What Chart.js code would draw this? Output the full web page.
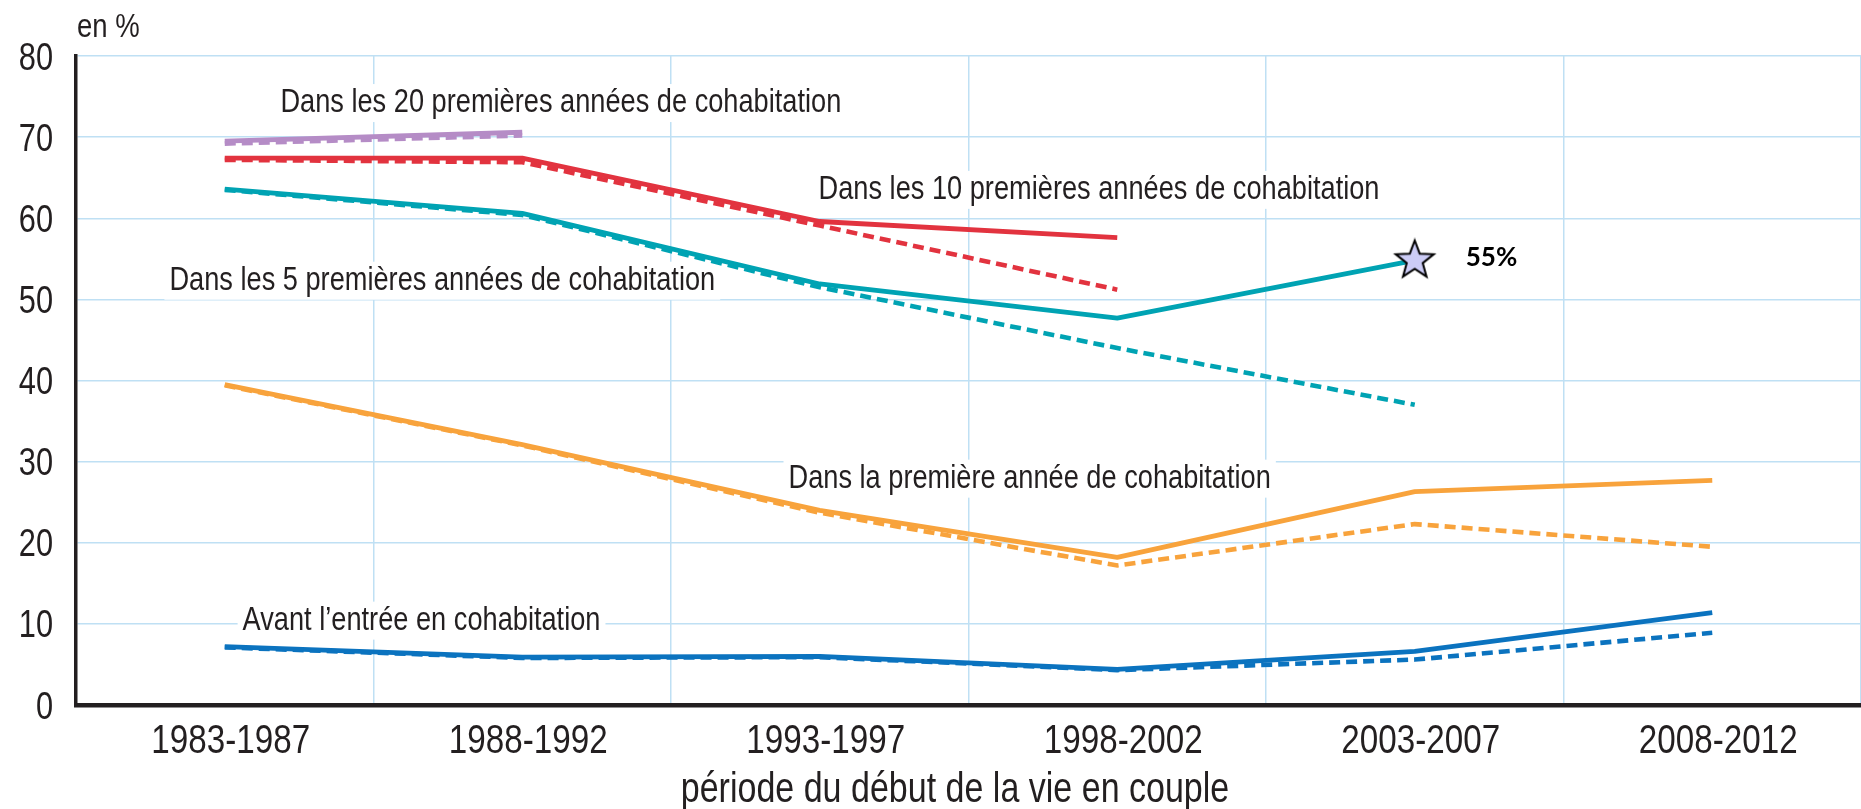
<!DOCTYPE html>
<html lang="fr">
<head>
<meta charset="utf-8">
<title>Début de la vie en couple</title>
<script src="https://cdn.jsdelivr.net/npm/chart.js@4.4.1/dist/chart.umd.min.js"></script>
<style>
  html, body { margin: 0; padding: 0; background: #fff; }
  #wrap { position: relative; width: 1861px; height: 809px; }
</style>
</head>
<body>
<div id="wrap"><canvas id="chart"></canvas></div>
<script>
// === DONNÉES ===
const periods = ["1983-1987", "1988-1992", "1993-1997", "1998-2002", "2003-2007", "2008-2012"];
const yTicks = [0, 10, 20, 30, 40, 50, 60, 70, 80];

const first20Solid  = [69.5, 70.6, null, null, null, null];
const first20Dashed = [69.2, 70.2, null, null, null, null];
const first10Solid  = [67.4, 67.4, 59.6, 57.6, null, null];
const first10Dashed = [67.2, 66.9, 59.1, 51.2, null, null];
const first5Solid   = [63.6, 60.6, 51.9, 47.7, 54.8, null];
const first5Dashed  = [63.5, 60.4, 51.5, 44.0, 37.0, null];
const firstYrSolid  = [39.5, 32.1, 24.0, 18.2, 26.3, 27.7];
const firstYrDashed = [39.4, 32.0, 23.7, 17.2, 22.3, 19.5];
const beforeSolid   = [7.2, 5.9, 6.0, 4.4, 6.6, 11.4];
const beforeDashed  = [7.1, 5.8, 5.9, 4.3, 5.6, 8.9];

const curveLabels = [
  "Dans les 20 premières années de cohabitation",
  "Dans les 10 premières années de cohabitation",
  "Dans les 5 premières années de cohabitation",
  "Dans la première année de cohabitation",
  "Avant l’entrée en cohabitation"
];
const starLabel = "55%";
const yUnit = "en %";
const xTitle = "période du début de la vie en couple";

// === STYLES ===
const FONT = '"Liberation Sans", Arial, sans-serif';
const NARROW = 0.81; // le texte d'origine est en Helvetica condensé
const INK = "#231f20";
const GRID = "#bfe0f4";
const PURPLE = "#b58cc6";
const RED = "#e2333f";
const TEAL = "#00a3b3";
const ORANGE = "#f8a33c";
const BLUE = "#0b73bf";

// position des libellés : [fraction d'index de catégorie, valeur]
const labelAnchors = [
  [0.187, 74.2],
  [1.996, 63.5],
  [-0.186, 52.3],
  [1.895, 27.9],
  [0.06, 10.4]
];

function makeStar(r) {
  const c = document.createElement("canvas");
  const size = Math.ceil(r * 2 + 6);
  c.width = c.height = size;
  const g = c.getContext("2d");
  g.beginPath();
  for (let k = 0; k < 10; k++) {
    const rad = k % 2 ? r * 0.42 : r;
    const a = -Math.PI / 2 + k * Math.PI / 5;
    g.lineTo(size / 2 + rad * Math.cos(a), size / 2 + rad * Math.sin(a));
  }
  g.closePath();
  g.fillStyle = "#ccccf6";
  g.fill();
  g.lineWidth = 2;
  g.strokeStyle = "#000";
  g.stroke();
  return c;
}
const star = makeStar(20);

function solid(data, color, extra) {
  return Object.assign({
    data, borderColor: color, borderWidth: 4.8, pointRadius: 0,
    borderCapStyle: "butt", borderJoinStyle: "round", tension: 0, order: 1
  }, extra || {});
}
function dashed(data, color) {
  return {
    data, borderColor: color, borderWidth: 4.6, pointRadius: 0, borderDash: [11, 6],
    borderCapStyle: "butt", tension: 0, order: 2
  };
}

// texte condensé horizontalement
function narrowText(ctx, text, x, y) {
  const w = ctx.measureText(text).width * NARROW;
  ctx.fillText(text, x, y, w);
  return w;
}

// === TEXTES SUR LE GRAPHIQUE ===
const annotations = {
  id: "annotations",
  beforeDatasetsDraw(chart) {
    const { ctx, scales: { x, y } } = chart;
    const x0 = x.getPixelForValue(0);
    const step = x.getPixelForValue(1) - x0;
    ctx.save();
    ctx.font = "33.6px " + FONT;
    ctx.textBaseline = "middle";
    curveLabels.forEach((text, i) => {
      const px = x0 + labelAnchors[i][0] * step;
      const py = y.getPixelForValue(labelAnchors[i][1]);
      const w = ctx.measureText(text).width * NARROW;
      ctx.fillStyle = "#fff";
      ctx.fillRect(px - 5, py - 19, w + 10, 38);
      ctx.fillStyle = INK;
      narrowText(ctx, text, px, py);
    });
    ctx.restore();
  },
  afterDraw(chart) {
    const { ctx, scales: { x, y } } = chart;
    ctx.save();
    ctx.fillStyle = INK;
    ctx.textBaseline = "alphabetic";

    // graduations de l'axe des abscisses
    ctx.font = "41px " + FONT;
    ctx.textAlign = "center";
    periods.forEach((p, i) => narrowText(ctx, p, x.getPixelForValue(i) + 6, y.bottom + 48));

    // titre de l'axe
    ctx.font = "42px " + FONT;
    narrowText(ctx, xTitle, 955, 802);

    // graduations de l'axe des ordonnées
    ctx.font = "38px " + FONT;
    ctx.textAlign = "right";
    yTicks.forEach(v => narrowText(ctx, String(v), 53, y.getPixelForValue(v) + 13.5));

    // unité
    ctx.font = "34px " + FONT;
    ctx.textAlign = "left";
    narrowText(ctx, yUnit, 77, 37);

    // étiquette de l'étoile
    const pt = chart.getDatasetMeta(2).data[4];
    ctx.font = 'bold 26px Lato, "Open Sans", sans-serif';
    ctx.fillStyle = "#000";
    ctx.textBaseline = "middle";
    ctx.fillText(starLabel, pt.x + 51, pt.y - 3);
    ctx.restore();
  }
};

new Chart(document.getElementById("chart"), {
  type: "line",
  data: {
    labels: periods,
    datasets: [
      solid(first20Solid, PURPLE),
      solid(first10Solid, RED),
      solid(first5Solid, TEAL, {
        pointRadius: [0, 0, 0, 0, 20, 0],
        pointStyle: star
      }),
      solid(firstYrSolid, ORANGE),
      solid(beforeSolid, BLUE),
      dashed(first20Dashed, PURPLE),
      dashed(first10Dashed, RED),
      dashed(first5Dashed, TEAL),
      dashed(firstYrDashed, ORANGE),
      dashed(beforeDashed, BLUE)
    ]
  },
  options: {
    responsive: true,
    maintainAspectRatio: false,
    animation: false,
    layout: { padding: { top: 56, left: 0, right: 0, bottom: 0 } },
    plugins: { legend: { display: false }, tooltip: { enabled: false } },
    scales: {
      x: {
        offset: true,
        grid: { offset: true, color: GRID, lineWidth: 1.5, drawTicks: false },
        border: { color: INK, width: 4.5 },
        ticks: { display: false, autoSkip: false },
        afterFit(s) { s.height = 104; }
      },
      y: {
        min: 0,
        max: 80,
        afterBuildTicks(s) { s.ticks = yTicks.map(v => ({ value: v })); },
        grid: { color: GRID, lineWidth: 1.5, drawTicks: false },
        border: { color: INK, width: 3.5 },
        ticks: { display: false },
        afterFit(s) { s.width = 76; }
      }
    }
  },
  plugins: [annotations]
});
</script>
</body>
</html>
